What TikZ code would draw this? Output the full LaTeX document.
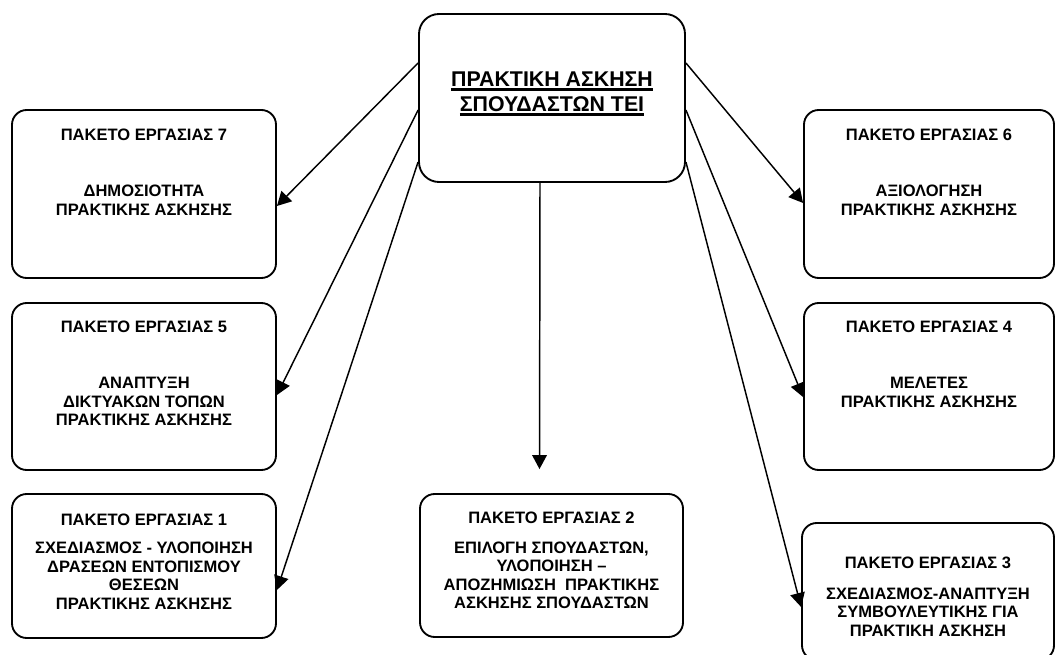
\documentclass[tikz,border=0pt]{standalone}
\usepackage{fontspec}
\setmainfont{Liberation Sans}[BoldFont={Liberation Sans Bold}]
\usetikzlibrary{arrows.meta,fit}
\newcommand\thickul[1]{\setbox0\hbox{#1}\leavevmode\rlap{\smash{\rule[-3.2pt]{\wd0}{2.2pt}}}\box0}
\begin{document}
\begin{tikzpicture}[x=0.75pt,y=-0.75pt,
  box/.style={draw, line width=1.4pt, rounded corners=11pt, inner sep=0pt},
  arr/.style={line width=1.1pt, -{Triangle[length=10.5pt,width=11pt]}},
  txt/.style={font=\bfseries\fontsize{12.4}{13.9}\selectfont, align=center, inner sep=0pt},
  bigtxt/.style={font=\bfseries\fontsize{16}{18.75}\selectfont, align=center, inner sep=0pt}]
\useasboundingbox (0,0) rectangle (1056,655);
\clip (0,0) rectangle (1056,655);
% boxes
\node[box, rounded corners=15pt, fit={(419,14) (685,182)}] (c) {};
\node[box, fit={(12,110) (276,278)}] (b7) {};
\node[box, fit={(12,303) (276,470)}] (b5) {};
\node[box, fit={(12,494) (276,638)}] (b1) {};
\node[box, fit={(420,494) (683,637)}] (b2) {};
\node[box, fit={(804,110) (1054,278)}] (b6) {};
\node[box, fit={(804,303) (1054,470)}] (b4) {};
\node[box, fit={(802,523) (1054,660)}] (b3) {};
% texts
\node[bigtxt] (ct) at (552,92) {\thickul{ΠΡΑΚΤΙΚΗ ΑΣΚΗΣΗ}\\\thickul{ΣΠΟΥΔΑΣΤΩΝ ΤΕΙ}};
\node[txt] (b7t) at (144,135) {ΠΑΚΕΤΟ ΕΡΓΑΣΙΑΣ 7};
\node[txt] (b7b) at (144,200) {ΔΗΜΟΣΙΟΤΗΤΑ\\ΠΡΑΚΤΙΚΗΣ ΑΣΚΗΣΗΣ};
\node[txt] (b5t) at (144,327) {ΠΑΚΕΤΟ ΕΡΓΑΣΙΑΣ 5};
\node[txt] (b5b) at (144,401.5) {ΑΝΑΠΤΥΞΗ\\ΔΙΚΤΥΑΚΩΝ ΤΟΠΩΝ\\ΠΡΑΚΤΙΚΗΣ ΑΣΚΗΣΗΣ};
\node[txt] (b1t) at (144,520) {ΠΑΚΕΤΟ ΕΡΓΑΣΙΑΣ 1};
\node[txt] (b1b) at (144,575.5) {ΣΧΕΔΙΑΣΜΟΣ - ΥΛΟΠΟΙΗΣΗ\\ΔΡΑΣΕΩΝ ΕΝΤΟΠΙΣΜΟΥ\\ΘΕΣΕΩΝ\\ΠΡΑΚΤΙΚΗΣ ΑΣΚΗΣΗΣ};
\node[txt] (b2t) at (551.5,518) {ΠΑΚΕΤΟ ΕΡΓΑΣΙΑΣ 2};
\node[txt] (b2b) at (551.5,575.5) {ΕΠΙΛΟΓΗ ΣΠΟΥΔΑΣΤΩΝ,\\ΥΛΟΠΟΙΗΣΗ –\\ΑΠΟΖΗΜΙΩΣΗ\ \ ΠΡΑΚΤΙΚΗΣ\\ΑΣΚΗΣΗΣ ΣΠΟΥΔΑΣΤΩΝ};
\node[txt] (b6t) at (929,135) {ΠΑΚΕΤΟ ΕΡΓΑΣΙΑΣ 6};
\node[txt] (b6b) at (929,200) {ΑΞΙΟΛΟΓΗΣΗ\\ΠΡΑΚΤΙΚΗΣ ΑΣΚΗΣΗΣ};
\node[txt] (b4t) at (929,327) {ΠΑΚΕΤΟ ΕΡΓΑΣΙΑΣ 4};
\node[txt] (b4b) at (929,392.5) {ΜΕΛΕΤΕΣ\\ΠΡΑΚΤΙΚΗΣ ΑΣΚΗΣΗΣ};
\node[txt] (b3t) at (928,563) {ΠΑΚΕΤΟ ΕΡΓΑΣΙΑΣ 3};
\node[txt] (b3b) at (928,612) {ΣΧΕΔΙΑΣΜΟΣ-ΑΝΑΠΤΥΞΗ\\ΣΥΜΒΟΥΛΕΥΤΙΚΗΣ ΓΙΑ\\ΠΡΑΚΤΙΚΗ ΑΣΚΗΣΗ};
% connectors
\coordinate (d) at ([xshift=-9pt,yshift=18pt]b2.north);
\draw[arr] ([yshift=26.25pt]c.west) -- ([yshift=-9pt]b7.east);
\draw[arr] ([yshift=-9pt]c.west) -- ([yshift=-6.4pt]b5.east);
\draw[arr] ([yshift=-48pt]c.west) -- ([yshift=-18pt]b1.east);
\draw[arr] ([yshift=26.25pt]c.east) -- ([yshift=-6.75pt]b6.west);
\draw[arr] ([yshift=-9pt]c.east) -- ([yshift=-7.9pt]b4.west);
\draw[arr] ([yshift=-48pt]c.east) -- ([yshift=-11.6pt]b3.west);
\draw[arr] ([xshift=-9pt]c.south) -- (d);
\end{tikzpicture}
\end{document}
